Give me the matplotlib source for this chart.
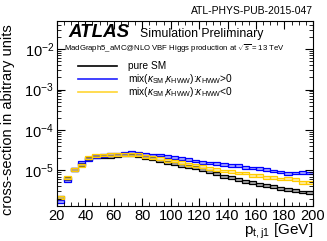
import numpy as np
import matplotlib
matplotlib.use("Agg")
from matplotlib import pyplot as plt
from matplotlib.ticker import MultipleLocator, LogLocator, NullFormatter

plt.rcParams['font.family'] = ['Liberation Sans', 'DejaVu Sans']
plt.rcParams['mathtext.fontset'] = 'custom'
plt.rcParams['mathtext.rm'] = 'Liberation Sans'
plt.rcParams['mathtext.it'] = 'Liberation Sans:italic'

# bin edges of the leading jet pT, 5 GeV wide
edges = np.arange(20, 201, 5)

pure_sm = [2.1e-6, 6.2e-6, 1.04e-5, 1.4e-5, 2.0e-5, 2.15e-5, 2.2e-5, 2.25e-5,
           2.35e-5, 2.4e-5, 2.4e-5, 2.35e-5, 2.06e-5, 1.95e-5, 1.7e-5, 1.55e-5,
           1.46e-5, 1.33e-5, 1.26e-5, 1.16e-5, 1.04e-5, 9.3e-6, 8.3e-6, 7.2e-6,
           6.5e-6, 5.9e-6, 5.4e-6, 4.9e-6, 4.5e-6, 4.3e-6, 3.9e-6, 3.6e-6,
           3.4e-6, 3.1e-6, 2.9e-6, 2.85e-6]
mix_pos = [1.7e-6, 5.6e-6, 1.04e-5, 1.58e-5, 1.87e-5, 2.25e-5, 2.35e-5, 2.45e-5,
           2.5e-5, 2.7e-5, 2.85e-5, 2.7e-5, 2.5e-5, 2.4e-5, 2.4e-5, 2.2e-5,
           2.1e-5, 1.95e-5, 1.84e-5, 1.7e-5, 1.6e-5, 1.52e-5, 1.5e-5, 1.4e-5,
           1.33e-5, 1.33e-5, 1.2e-5, 1.14e-5, 1.1e-5, 1.04e-5, 9.6e-6, 9.1e-6,
           8.3e-6, 8.6e-6, 8.8e-6, 8.6e-6]
mix_neg = [2.1e-6, 6.8e-6, 1.04e-5, 1.33e-5, 2.06e-5, 2.36e-5, 2.4e-5, 2.5e-5,
           2.5e-5, 2.5e-5, 2.5e-5, 2.5e-5, 2.2e-5, 2.06e-5, 1.95e-5, 1.77e-5,
           1.7e-5, 1.6e-5, 1.4e-5, 1.33e-5, 1.26e-5, 1.1e-5, 1.04e-5, 9.6e-6,
           9.2e-6, 8.6e-6, 8.6e-6, 7.5e-6, 7.3e-6, 6.8e-6, 6.6e-6, 6.1e-6,
           6.3e-6, 5.9e-6, 5.1e-6, 4.9e-6]
rel_err = 0.08

fig = plt.figure(figsize=(3.27, 2.41), dpi=100)
ax = fig.add_axes([0.174, 0.145, 0.783, 0.768])

series = [(pure_sm, "black", "#555555"),
          (mix_pos, "#0000ff", "#5050ff"),
          (mix_neg, "#ffcc00", "#ffdd55")]
for vals, col, fcol in series:
    vals = np.array(vals)
    ax.bar(edges[:-1], 2 * rel_err * vals, bottom=vals * (1 - rel_err),
           width=5, align="edge", facecolor=fcol, alpha=0.5, lw=0)
    ax.bar(edges[:-1], 2 * rel_err * vals, bottom=vals * (1 - rel_err),
           width=5, align="edge", fill=False, edgecolor=col, lw=0.9)

ax.set_yscale("log")
ax.set_xlim(20, 200)
ax.set_ylim(1.3e-6, 5e-2)

ax.xaxis.set_major_locator(MultipleLocator(20))
ax.xaxis.set_minor_locator(MultipleLocator(5))
ax.yaxis.set_major_locator(LogLocator(base=10, numticks=10))
ax.yaxis.set_minor_locator(LogLocator(base=10, subs=np.arange(2, 10), numticks=20))
ax.yaxis.set_minor_formatter(NullFormatter())
ax.tick_params(which="both", direction="in", top=True, right=True, labelsize=10.5, pad=2)
ax.tick_params(which="major", length=6)
ax.tick_params(which="minor", length=3)

ax.set_ylabel("cross-section in abitrary units", fontsize=10.5, labelpad=1)
ax.yaxis.set_label_coords(-0.165, 0.465)
ax.set_xlabel(r"p$_{\rm t,j1}$ [GeV]", fontsize=11, loc="right", labelpad=-1)

fig.text(0.957, 0.954, "ATL-PHYS-PUB-2015-047", ha="right", va="center", fontsize=7.5)
ax.text(0.043, 0.935, "ATLAS", transform=ax.transAxes, fontsize=13.5,
        fontweight="bold", fontstyle="italic", va="center")
ax.text(0.324, 0.93, "Simulation Preliminary", transform=ax.transAxes,
        fontsize=8.8, va="center")
ax.text(0.028, 0.849, r"MadGraph5_aMC@NLO VBF Higgs production at $\sqrt{s}$ = 13 TeV",
        transform=ax.transAxes, fontsize=5.6, va="center")

leg_labels = ["pure SM",
              r"mix($\kappa_{\rm SM}$,$\kappa_{\rm HWW}$):$\kappa_{\rm HWW}$>0",
              r"mix($\kappa_{\rm SM}$,$\kappa_{\rm HWW}$):$\kappa_{\rm HWW}$<0"]
leg_colors = ["black", "#2020ff", "#ffd633"]
leg_y = [0.757, 0.687, 0.617]
for lab, col, yy in zip(leg_labels, leg_colors, leg_y):
    ax.plot([0.082, 0.234], [yy, yy], transform=ax.transAxes, color=col, lw=1.2)
    ax.text(0.277, yy, lab, transform=ax.transAxes, fontsize=7.3, va="center")

fig.savefig("out.png", dpi=100)
